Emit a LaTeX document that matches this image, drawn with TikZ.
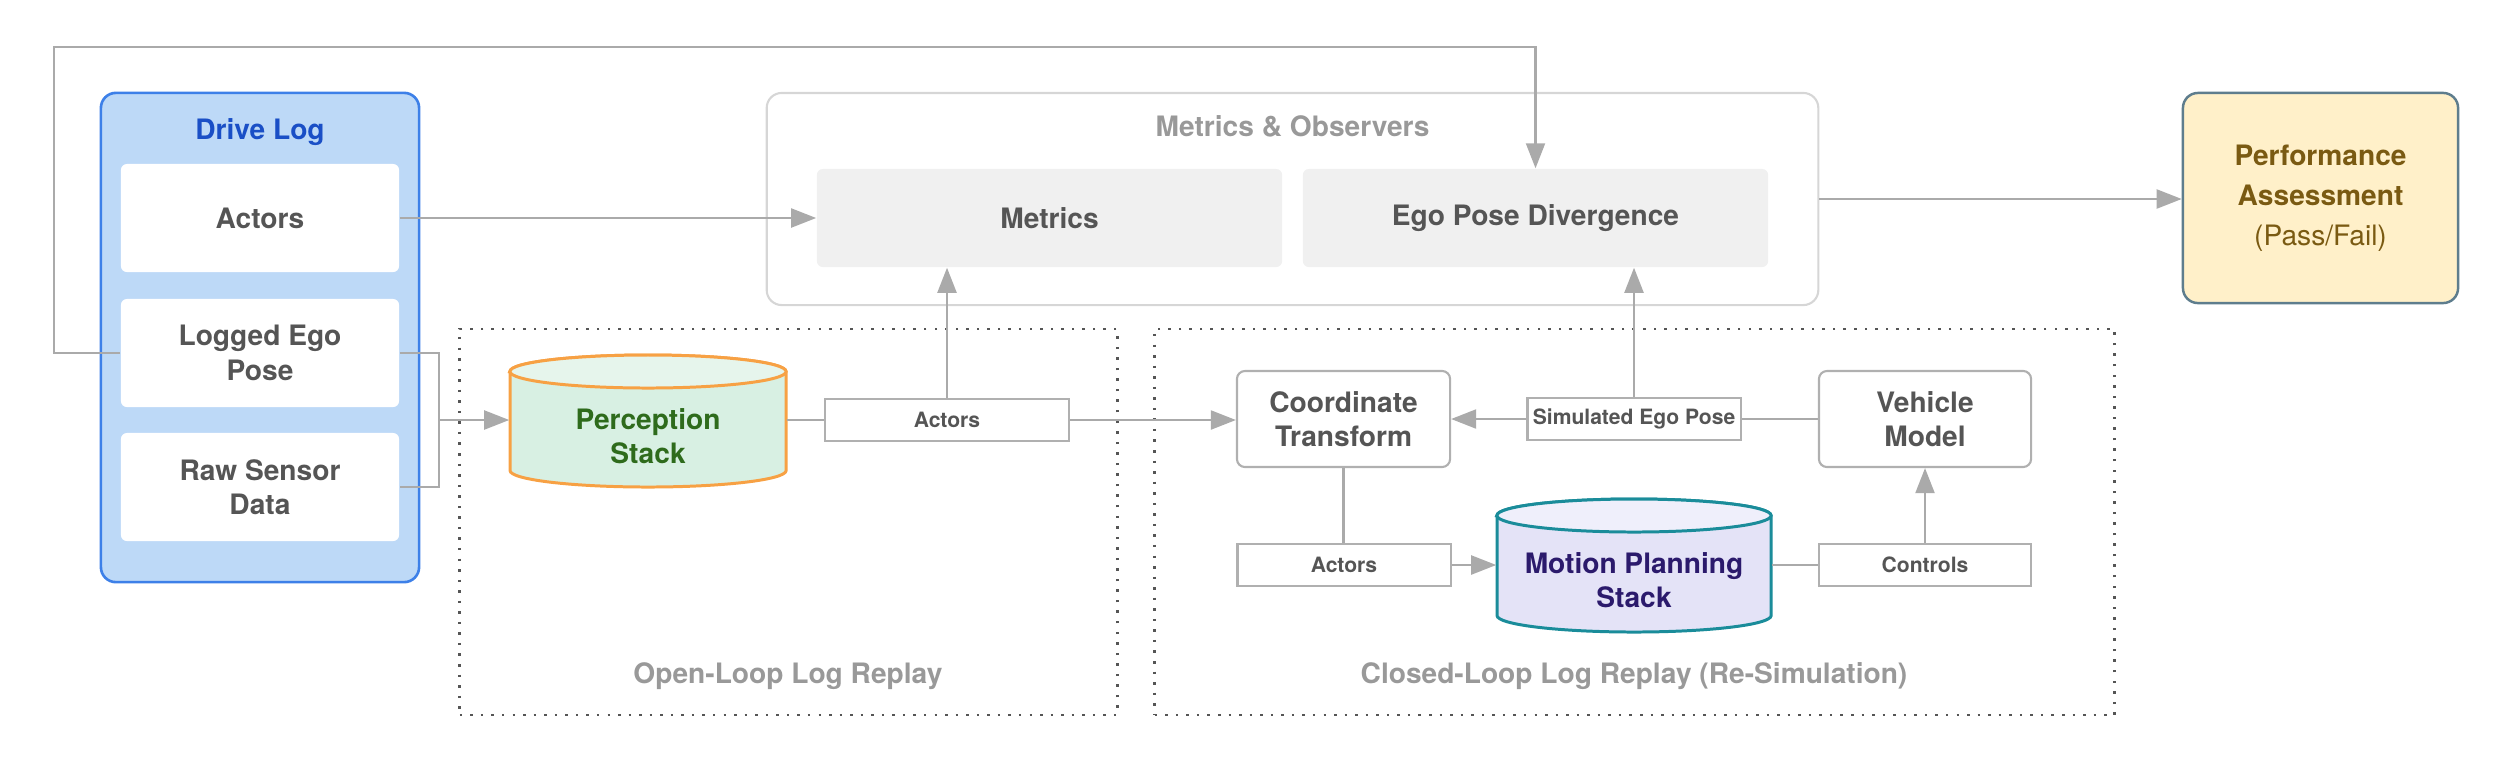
\documentclass[tikz,border=0pt]{standalone}
\usepackage{fontspec}
\setmainfont{TeX Gyre Heros}
\usetikzlibrary{arrows.meta}
\definecolor{dlfill}{HTML}{BDD9F7}
\definecolor{dldraw}{HTML}{3D80E8}
\definecolor{dltitle}{HTML}{1A4FC6}
\definecolor{txtg}{HTML}{555555}
\definecolor{ttlg}{HTML}{999999}
\definecolor{mfill}{HTML}{F0F0F0}
\definecolor{mobord}{HTML}{D6D6D6}
\definecolor{percfill}{HTML}{D8F0E3}
\definecolor{perctop}{HTML}{E6F5EC}
\definecolor{percdraw}{HTML}{F7A144}
\definecolor{perctext}{HTML}{2E6B1C}
\definecolor{mpsfill}{HTML}{E4E3F7}
\definecolor{mpstop}{HTML}{EFEFFB}
\definecolor{mpsdraw}{HTML}{1A8C9A}
\definecolor{mpstext}{HTML}{2B1A6C}
\definecolor{pafill}{HTML}{FFF0C9}
\definecolor{padraw}{HTML}{5E7D8D}
\definecolor{patext}{HTML}{7A5A12}
\definecolor{lineg}{HTML}{AAAAAA}
\definecolor{bordg}{HTML}{B0B0B0}
\definecolor{dotg}{HTML}{555555}
\begin{document}
\begin{tikzpicture}[x=0.01cm,y=-0.01cm,
  conn/.style={draw=lineg, line width=0.6pt},
  arr/.style={conn, -{Triangle[length=0.25cm,width=0.19cm]}},
  mainf/.style={font=\fontsize{8}{9.8}\selectfont\bfseries},
  titlef/.style={font=\fontsize{8}{9.8}\selectfont\bfseries, inner sep=0pt},
  wbox/.style={mainf, fill=white, rounded corners=0.06cm, minimum width=2.78cm, minimum height=1.08cm, inner sep=0pt, text=txtg, align=center},
  gbox/.style={mainf, fill=mfill, rounded corners=0.06cm, minimum width=4.65cm, minimum height=0.98cm, inner sep=0pt, text=txtg, align=center},
  lbox/.style={font=\fontsize{6}{7}\selectfont\bfseries, draw=bordg, line width=0.6pt, fill=white, minimum width=2.13cm, minimum height=0.42cm, inner sep=0pt, text=txtg},
  rbox/.style={mainf, draw=bordg, line width=0.6pt, fill=white, rounded corners=0.08cm, minimum width=2.13cm, minimum height=0.96cm, inner sep=0pt, text=txtg, align=center},
  dotbox/.style={draw=dotg, line width=0.75pt, dash pattern=on 0.7pt off 2.3pt, inner sep=0pt, minimum height=3.86cm},
  pabox/.style={font=\fontsize{8}{11.4}\selectfont\bfseries, fill=pafill, draw=padraw, line width=0.7pt, rounded corners=0.15cm, minimum width=2.75cm, minimum height=2.1cm, inner sep=0pt, text=patext, align=center},
  dlbox/.style={fill=dlfill, draw=dldraw, line width=0.75pt, rounded corners=0.15cm, minimum width=3.18cm, minimum height=4.89cm, inner sep=0pt}
]
\path[use as bounding box] (0,0) rectangle (2516,772);

% Drive log
\node[dlbox] (drivelog) at (260,337.5) {};
\node[titlef, text=dltitle, anchor=base] (dltit) at (260,139) {Drive Log};
\node[wbox] (dlact) at (260,218) {Actors};
\node[wbox] (dlego) at (260,353) {Logged Ego\\Pose};
\node[wbox] (dlraw) at (260,487) {Raw Sensor\\Data};

% Metrics & Observers
\node[draw=mobord, line width=0.6pt, rounded corners=0.15cm, minimum width=10.51cm, minimum height=2.12cm, inner sep=0pt] (metobs) at (1292.5,199) {};
\node[titlef, text=ttlg, anchor=base] (motit) at (1292.5,136) {Metrics \& Observers};
\node[gbox] (metrics) at (1049.5,218) {Metrics};
\node[gbox] (epd) at (1535.5,218) {Ego Pose Divergence};

% Performance assessment
\node[pabox] (pa) at (2320.5,198) {Performance\\Assessment\\{\mdseries (Pass/Fail)}};

% Loop regions
\node[dotbox, minimum width=6.57cm] (olbox) at (788.5,522) {};
\node[titlef, text=ttlg, anchor=base] (oltit) at (788,683) {Open-Loop Log Replay};
\node[dotbox, minimum width=9.59cm] (clbox) at (1634.5,522) {};
\node[titlef, text=ttlg, anchor=base] (cltit) at (1634,683) {Closed-Loop Log Replay (Re-Simulation)};

% Perception stack cylinder
\path[fill=percfill, draw=percdraw, line width=0.85pt] (510,371.5) -- (510,470.5)
  arc[start angle=180, end angle=360, x radius=1.38cm, y radius=0.165cm] -- (786,371.5)
  arc[start angle=0, end angle=180, x radius=1.38cm, y radius=0.165cm] -- cycle;
\path[fill=perctop, draw=percdraw, line width=0.85pt] (648,371.5) ellipse[x radius=1.38cm, y radius=0.165cm];
\node[minimum width=2.76cm, minimum height=1.32cm, inner sep=0pt] (perc) at (648,420) {};
\node[mainf, text=perctext, align=center, inner sep=0pt] (perclabel) at (648,436) {Perception\\Stack};

% Motion planning stack cylinder
\path[fill=mpsfill, draw=mpsdraw, line width=0.85pt] (1497,515.5) -- (1497,615.5)
  arc[start angle=180, end angle=360, x radius=1.37cm, y radius=0.165cm] -- (1771,515.5)
  arc[start angle=0, end angle=180, x radius=1.37cm, y radius=0.165cm] -- cycle;
\path[fill=mpstop, draw=mpsdraw, line width=0.85pt] (1634,515.5) ellipse[x radius=1.37cm, y radius=0.165cm];
\node[minimum width=2.74cm, minimum height=1.33cm, inner sep=0pt] (mps) at (1634,565) {};
\node[mainf, text=mpstext, align=center, inner sep=0pt] (mpslabel) at (1634,580) {Motion Planning\\Stack};

% Boxes in loops
\node[lbox, minimum width=2.44cm] (olact) at (947,420) {Actors};
\node[rbox] (ct) at (1343.5,419) {Coordinate\\Transform};
\node[lbox] (sep) at (1634,419) {Simulated Ego Pose};
\node[rbox, minimum width=2.12cm] (vm) at (1925,419) {Vehicle\\Model};
\node[lbox] (clact) at (1344,565) {Actors};
\node[lbox, minimum width=2.12cm] (ctrl) at (1925,565) {Controls};

% Connectors
\coordinate (fb1) at (54,353);
\coordinate (fb2) at (54,47);
\coordinate (jn) at (439,420);
\draw[arr] (dlact.east) -- (metrics.west);
\draw[arr] (dlego.west) -- (fb1) -- (fb2) -| (epd.north);
\draw[conn] (dlego.east) -| (jn) |- (dlraw.east);
\draw[arr] (jn) -- (perc.west);
\draw[conn] (perc.east) -- (olact.west);
\draw[arr] (olact.north) -- (olact.north |- metrics.south);
\draw[arr] (olact.east) -- (olact.east -| ct.west);
\draw[arr] (sep.west) -- (ct.east);
\draw[conn] (vm.west) -- (sep.east);
\draw[arr] (sep.north) -- (sep.north |- epd.south);
\draw[conn] (ct.south) -- (ct.south |- clact.north);
\draw[arr] (clact.east) -- (clact.east -| mps.west);
\draw[conn] (mps.east) -- (mps.east -| ctrl.west);
\draw[arr] (ctrl.north) -- (vm.south);
\draw[arr] (metobs.east) -- (metobs.east -| pa.west);
\end{tikzpicture}
\end{document}
